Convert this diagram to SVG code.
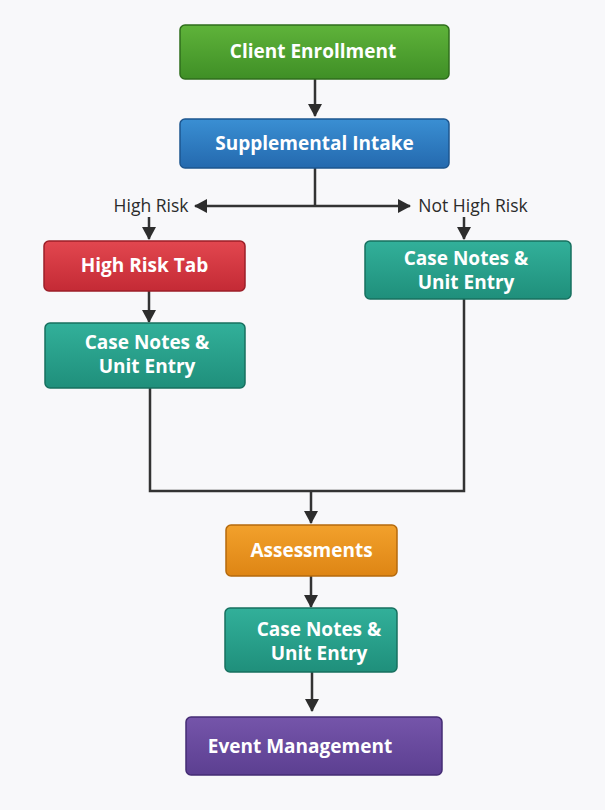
<svg xmlns="http://www.w3.org/2000/svg" width="605" height="810" viewBox="0 0 605 810">
<defs>
<linearGradient id="gGreen" x1="0" y1="0" x2="0" y2="1"><stop offset="0" stop-color="#5fb33a"/><stop offset="1" stop-color="#3f8f26"/></linearGradient>
<linearGradient id="gBlue" x1="0" y1="0" x2="0" y2="1"><stop offset="0" stop-color="#3a8fd3"/><stop offset="1" stop-color="#2469ae"/></linearGradient>
<linearGradient id="gRed" x1="0" y1="0" x2="0" y2="1"><stop offset="0" stop-color="#e2474f"/><stop offset="1" stop-color="#c42a35"/></linearGradient>
<linearGradient id="gTeal" x1="0" y1="0" x2="0" y2="1"><stop offset="0" stop-color="#32b09a"/><stop offset="1" stop-color="#1f8f7b"/></linearGradient>
<linearGradient id="gOrange" x1="0" y1="0" x2="0" y2="1"><stop offset="0" stop-color="#f2a12c"/><stop offset="1" stop-color="#de8514"/></linearGradient>
<linearGradient id="gPurple" x1="0" y1="0" x2="0" y2="1"><stop offset="0" stop-color="#7555aa"/><stop offset="1" stop-color="#5c3f91"/></linearGradient>
<marker id="arr" markerWidth="13" markerHeight="14" refX="12" refY="7" orient="auto" markerUnits="userSpaceOnUse" viewBox="0 0 13 14">
<path d="M0,0 L13,7 L0,14 z" fill="#2d2d2d"/>
</marker>
</defs>
<style>
.box{stroke-width:1.5}
.t{font-family:"Open Sans","Liberation Sans",sans-serif;font-weight:700;font-size:19px;fill:#ffffff;text-anchor:middle}
.lbl{font-family:"Open Sans","Liberation Sans",sans-serif;font-size:17.5px;fill:#2b2b2b}
.ln{fill:none;stroke:#333333;stroke-width:2.5}
</style>
<rect width="605" height="810" fill="#f8f8fa"/>
<g id="connectors">
<line class="ln" x1="315" y1="79" x2="315" y2="116" marker-end="url(#arr)"/>
<line class="ln" x1="315" y1="168" x2="315" y2="206"/>
<line class="ln" x1="315" y1="206" x2="195" y2="206" marker-end="url(#arr)"/>
<line class="ln" x1="315" y1="206" x2="410" y2="206" marker-end="url(#arr)"/>
<line class="ln" x1="149" y1="217" x2="149" y2="239" marker-end="url(#arr)"/>
<line class="ln" x1="464" y1="217" x2="464" y2="239" marker-end="url(#arr)"/>
<line class="ln" x1="149" y1="291" x2="149" y2="322" marker-end="url(#arr)"/>
<polyline class="ln" points="150,388 150,491 464,491 464,299"/>
<line class="ln" x1="311" y1="491" x2="311" y2="523" marker-end="url(#arr)"/>
<line class="ln" x1="311" y1="576" x2="311" y2="607" marker-end="url(#arr)"/>
<line class="ln" x1="312" y1="672" x2="312" y2="711" marker-end="url(#arr)"/>
<text class="lbl" x="151" y="212" text-anchor="middle">High Risk</text>
<text class="lbl" x="473" y="212" text-anchor="middle">Not High Risk</text>
</g>
<g id="client-enrollment">
<rect class="box" x="180" y="25" width="269" height="54" rx="5" fill="url(#gGreen)" stroke="#2f6e1c"/>
<text class="t" x="313" y="58">Client Enrollment</text>
</g>
<g id="supplemental-intake">
<rect class="box" x="180" y="119" width="269" height="49" rx="5" fill="url(#gBlue)" stroke="#1d568f"/>
<text class="t" x="314.5" y="150">Supplemental Intake</text>
</g>
<g id="high-risk-tab">
<rect class="box" x="44" y="241" width="201" height="50" rx="5" fill="url(#gRed)" stroke="#9c1f28"/>
<text class="t" x="144.5" y="272">High Risk Tab</text>
</g>
<g id="case-notes-right">
<rect class="box" x="365" y="241" width="206" height="58" rx="5" fill="url(#gTeal)" stroke="#17705f"/>
<text class="t" x="466" y="265">Case Notes &amp;</text>
<text class="t" x="466" y="289">Unit Entry</text>
</g>
<g id="case-notes-left">
<rect class="box" x="45" y="323" width="200" height="65" rx="5" fill="url(#gTeal)" stroke="#17705f"/>
<text class="t" x="147" y="349">Case Notes &amp;</text>
<text class="t" x="147" y="373">Unit Entry</text>
</g>
<g id="assessments">
<rect class="box" x="226" y="525" width="171" height="51" rx="5" fill="url(#gOrange)" stroke="#b56a0c"/>
<text class="t" x="311.5" y="557">Assessments</text>
</g>
<g id="case-notes-bottom">
<rect class="box" x="225" y="608" width="172" height="64" rx="5" fill="url(#gTeal)" stroke="#17705f"/>
<text class="t" x="319" y="636">Case Notes &amp;</text>
<text class="t" x="319" y="660">Unit Entry</text>
</g>
<g id="event-management">
<rect class="box" x="186" y="717" width="256" height="58" rx="5" fill="url(#gPurple)" stroke="#442c74"/>
<text class="t" x="300" y="753">Event Management</text>
</g>
</svg>
